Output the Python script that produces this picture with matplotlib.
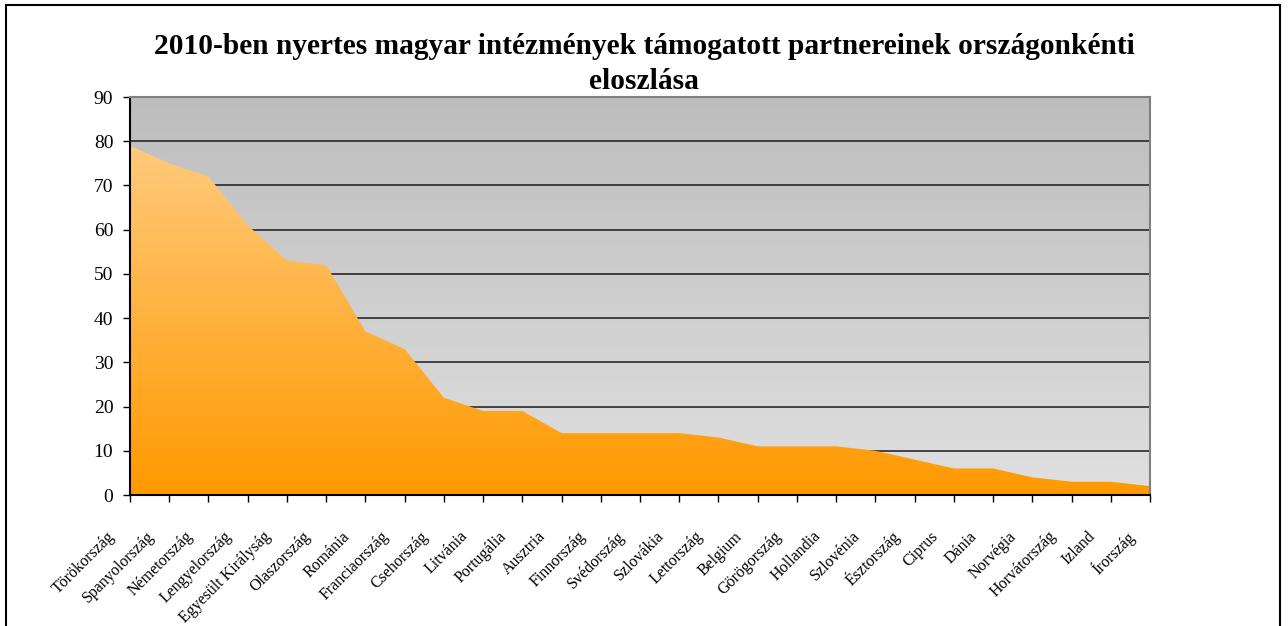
import numpy as np
import matplotlib
matplotlib.use("Agg")
import matplotlib.pyplot as plt
from matplotlib.patches import Rectangle, Polygon
from matplotlib.colors import LinearSegmentedColormap
import matplotlib.transforms as mtransforms

countries = ["Törökország", "Spanyolország", "Németország", "Lengyelország",
             "Egyesült Királyság", "Olaszország", "Románia", "Franciaország",
             "Csehország", "Litvánia", "Portugália", "Ausztria", "Finnország",
             "Svédország", "Szlovákia", "Lettország", "Belgium", "Görögország",
             "Hollandia", "Szlovénia", "Észtország", "Ciprus", "Dánia",
             "Norvégia", "Horvátország", "Izland", "Írország"]
partners = [79, 75, 72, 61, 53, 52, 37, 33, 22, 19, 19, 14, 14,
            14, 14, 13, 11, 11, 11, 10, 8, 6, 6, 4, 3, 3, 2]
yticks = [0, 10, 20, 30, 40, 50, 60, 70, 80, 90]
title = "2010-ben nyertes magyar intézmények támogatott partnereinek országonkénti\neloszlása"

plt.rcParams['font.family'] = ['Liberation Serif', 'DejaVu Serif']

fig = plt.figure(figsize=(12.88, 6.26), dpi=100)
ax = fig.add_axes([130 / 1288, 131 / 626, 1020 / 1288, 398 / 626])

x = np.arange(len(countries))
x_max = len(countries) - 1

# gray gradient background of the plot area
bg = LinearSegmentedColormap.from_list("bg", ["#e0e0e0", "#bdbdbd"])
ax.imshow(np.linspace(0, 1, 256).reshape(-1, 1), cmap=bg, origin="lower",
          extent=[0, x_max, 0, 90], aspect="auto", zorder=0)

for v in yticks[1:-1]:
    ax.axhline(v, color="#1a1a1a", lw=1.1, zorder=1)

# orange gradient area
orange = LinearSegmentedColormap.from_list("or", ["#ff9900", "#ffca7c"])
verts = [(0, 0)] + list(zip(x, partners)) + [(x_max, 0)]
poly = Polygon(verts, closed=True, facecolor="none", edgecolor="none")
ax.add_patch(poly)
im = ax.imshow(np.linspace(0, 1, 256).reshape(-1, 1), cmap=orange, origin="lower",
               extent=[0, x_max, 0, max(partners)], aspect="auto", zorder=2)
im.set_clip_path(poly)

ax.set_xlim(0, x_max)
ax.set_ylim(0, 90)
ax.set_yticks(yticks)
ax.set_yticklabels([str(v) for v in yticks], fontsize=14)
ax.set_xticks(x)
ax.set_xticklabels([])

# rotated category labels, shifted like the Excel ones
offset = mtransforms.ScaledTranslation(-0.18, -0.39, fig.dpi_scale_trans)
lab_tr = ax.get_xaxis_transform() + offset
for i, name in enumerate(countries):
    ax.text(i, 0, name, transform=lab_tr, fontsize=11.5, rotation=45,
            ha="right", va="center", rotation_mode="anchor", clip_on=False)

ax.tick_params(axis="both", direction="out", length=5, width=1, color="black")
ax.tick_params(axis="y", pad=7)

ax.spines["left"].set_color("black")
ax.spines["bottom"].set_color("black")
ax.spines["top"].set_color("#808080")
ax.spines["right"].set_color("#808080")
for s in ax.spines.values():
    s.set_linewidth(1.5)
    s.set_zorder(5)

fig.text(0.5, 0.898, title, ha="center", va="center", fontsize=21.2,
         fontweight="bold", linespacing=1.4)

fig.patches.append(Rectangle((6 / 1288, -0.1), 1274 / 1288, 1.1 - 5 / 626,
                             transform=fig.transFigure, fill=False,
                             edgecolor="black", lw=1.5))

fig.savefig("out.png", dpi=100)
